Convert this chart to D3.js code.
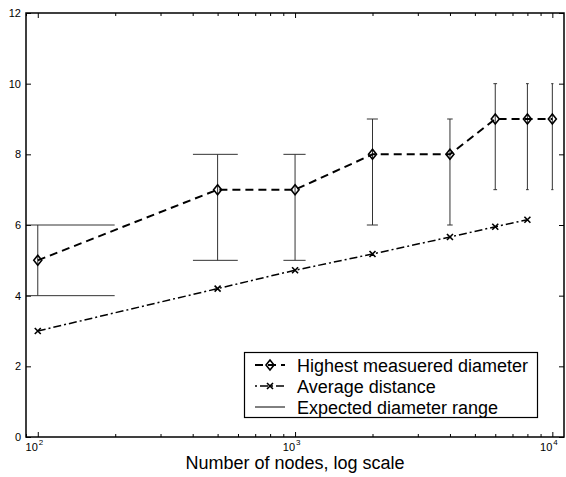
<!DOCTYPE html>
<html>
<head>
<meta charset="utf-8">
<script src="https://cdn.jsdelivr.net/npm/d3@7"></script>
<style>
  html, body { margin: 0; padding: 0; background: #fff; }
  svg { display: block; font-family: "Liberation Sans", Arial, Helvetica, sans-serif; }
</style>
</head>
<body>
<svg id="chart" width="566" height="477"></svg>
<script>
// Network size (number of nodes) at each measurement
const nodes = [100, 500, 1000, 2000, 4000, 6000, 8000, 10000];
// Highest measured diameter per network size
const highestDiameter = [5, 7, 7, 8, 8, 9, 9, 9];
// Expected diameter range (low / high) per network size
const expectedLow = [4, 5, 5, 6, 6, 7, 7, 7];
const expectedHigh = [6, 8, 8, 9, 9, 10, 10, 10];
// Average distance between nodes
const avgNodes = [100, 500, 1000, 2000, 4000, 6000, 8000];
const avgDistance = [3.0, 4.2, 4.72, 5.18, 5.66, 5.95, 6.15];

const xDomain = [90, 11100];
const yDomain = [0, 12];
const yTicks = [0, 2, 4, 6, 8, 10, 12];
const majorX = [100, 1000, 10000];
const xExponents = ["2", "3", "4"];
const legendLabels = ["Highest measuered diameter", "Average distance", "Expected diameter range"];
const xTitle = "Number of nodes, log scale";

const svg = d3.select("#chart");
const plot = { left: 26, top: 13, right: 564, bottom: 437 };

const x = d3.scaleLog().domain(xDomain).range([plot.left, plot.right]);
const y = d3.scaleLinear().domain(yDomain).range([plot.bottom, plot.top]);

svg.append("defs").append("clipPath").attr("id", "plotClip")
  .append("rect")
  .attr("x", plot.left).attr("y", plot.top)
  .attr("width", plot.right - plot.left).attr("height", plot.bottom - plot.top);

// minor log ticks (2..9 x 10^k)
const minorX = [];
for (let k = 1; k <= 4; k++) {
  for (let m = 2; m <= 9; m++) {
    const v = m * Math.pow(10, k);
    if (v >= xDomain[0] && v <= xDomain[1]) minorX.push(v);
  }
}

// Axes (ticks drawn inward, on all four sides)
const axisG = svg.append("g");
const bottomAxis = d3.axisBottom(x).tickValues(majorX).tickSize(-5).tickFormat("");
const bottomMinor = d3.axisBottom(x).tickValues(minorX).tickSize(-3).tickFormat("");
const topAxis = d3.axisTop(x).tickValues(majorX).tickSize(-5).tickFormat("");
const topMinor = d3.axisTop(x).tickValues(minorX).tickSize(-3).tickFormat("");
const leftAxis = d3.axisLeft(y).tickValues(yTicks).tickSize(-5).tickPadding(5);
const rightAxis = d3.axisRight(y).tickValues(yTicks).tickSize(-5).tickFormat("");

function styleAxis(g) {
  g.select(".domain").remove();
  g.selectAll(".tick line").attr("stroke", "#000").attr("stroke-width", 1);
}
axisG.append("g").attr("transform", `translate(0,${plot.bottom})`).call(bottomAxis).call(styleAxis);
axisG.append("g").attr("transform", `translate(0,${plot.bottom})`).call(bottomMinor).call(styleAxis);
axisG.append("g").attr("transform", `translate(0,${plot.top})`).call(topAxis).call(styleAxis);
axisG.append("g").attr("transform", `translate(0,${plot.top})`).call(topMinor).call(styleAxis);
const yl = axisG.append("g").attr("transform", `translate(${plot.left},0)`).call(leftAxis).call(styleAxis);
yl.selectAll(".tick text").attr("font-size", 11).attr("fill", "#000")
  .attr("font-family", "Liberation Sans, Arial, sans-serif");
axisG.append("g").attr("transform", `translate(${plot.right},0)`).call(rightAxis).call(styleAxis);

// x tick labels as 10^k
const xl = svg.append("g");
majorX.forEach((v, i) => {
  xl.append("text")
    .attr("x", x(v)).attr("y", 450.5)
    .attr("font-size", 11).attr("fill", "#000")
    .attr("text-anchor", "end").text("10");
  xl.append("text")
    .attr("x", x(v) + 1).attr("y", 444.5)
    .attr("font-size", 8).attr("fill", "#000")
    .text(xExponents[i]);
});

// x axis title
svg.append("text")
  .attr("x", (plot.left + plot.right) / 2).attr("y", 469)
  .attr("text-anchor", "middle").attr("font-size", 18).attr("fill", "#000")
  .text(xTitle);

const g = svg.append("g").attr("clip-path", "url(#plotClip)");

// Expected diameter range: error bars with caps
const capHalf = (d3.max(nodes) - d3.min(nodes)) / 100;
const bars = g.append("g").attr("stroke", "#333").attr("stroke-width", 1).attr("fill", "none");
nodes.forEach((n, i) => {
  bars.append("line").attr("x1", x(n)).attr("x2", x(n))
    .attr("y1", y(expectedLow[i])).attr("y2", y(expectedHigh[i]));
  const xa = n - capHalf > 0 ? x(n - capHalf) : plot.left - 10;
  const xb = x(n + capHalf);
  bars.append("line").attr("x1", xa).attr("x2", xb)
    .attr("y1", y(expectedLow[i])).attr("y2", y(expectedLow[i]));
  bars.append("line").attr("x1", xa).attr("x2", xb)
    .attr("y1", y(expectedHigh[i])).attr("y2", y(expectedHigh[i]));
});

// Highest measured diameter: dashed line with diamonds
const lineHigh = d3.line().x((d, i) => x(nodes[i])).y(d => y(d));
g.append("path").datum(highestDiameter)
  .attr("d", lineHigh).attr("fill", "none")
  .attr("stroke", "#000").attr("stroke-width", 2)
  .attr("stroke-dasharray", "8,5");

function diamond(sel, cx, cy) {
  sel.append("path")
    .attr("d", `M${cx},${cy - 5}L${cx + 4},${cy}L${cx},${cy + 5}L${cx - 4},${cy}Z`)
    .attr("fill", "none").attr("stroke", "#000").attr("stroke-width", 1.6);
}
highestDiameter.forEach((d, i) => diamond(g, x(nodes[i]), y(d)));

// Average distance: dash-dot line with x markers
const lineAvg = d3.line().x((d, i) => x(avgNodes[i])).y(d => y(d));
g.append("path").datum(avgDistance)
  .attr("d", lineAvg).attr("fill", "none")
  .attr("stroke", "#000").attr("stroke-width", 1.5)
  .attr("stroke-dasharray", "8,3,2,3");

function cross(sel, cx, cy) {
  const s = 3;
  sel.append("path")
    .attr("d", `M${cx - s},${cy - s}L${cx + s},${cy + s}M${cx - s},${cy + s}L${cx + s},${cy - s}`)
    .attr("stroke", "#000").attr("stroke-width", 1.6).attr("fill", "none");
}
avgDistance.forEach((d, i) => cross(g, x(avgNodes[i]), y(d)));

// Plot frame
svg.append("rect")
  .attr("x", plot.left).attr("y", plot.top)
  .attr("width", plot.right - plot.left).attr("height", plot.bottom - plot.top)
  .attr("fill", "none").attr("stroke", "#000").attr("stroke-width", 1.5);

// Legend
const lg = svg.append("g");
lg.append("rect")
  .attr("x", 244.5).attr("y", 352.5).attr("width", 293).attr("height", 65)
  .attr("fill", "#fff").attr("stroke", "#000").attr("stroke-width", 1.2);
const rowY = [365, 386, 407];
const sx0 = 255, sx1 = 285, smid = 270;
// row 1
lg.append("line").attr("x1", sx0).attr("x2", sx1).attr("y1", rowY[0]).attr("y2", rowY[0])
  .attr("stroke", "#000").attr("stroke-width", 2).attr("stroke-dasharray", "8,5");
diamond(lg, smid, rowY[0]);
// row 2
lg.append("line").attr("x1", sx0).attr("x2", sx1).attr("y1", rowY[1]).attr("y2", rowY[1])
  .attr("stroke", "#000").attr("stroke-width", 1.5).attr("stroke-dasharray", "2,3,8,3");
cross(lg, smid, rowY[1]);
// row 3
lg.append("line").attr("x1", sx0).attr("x2", sx1).attr("y1", rowY[2]).attr("y2", rowY[2])
  .attr("stroke", "#000").attr("stroke-width", 1);
legendLabels.forEach((t, i) => {
  lg.append("text").attr("x", 297).attr("y", rowY[i] + 6.5)
    .attr("font-size", 18).attr("fill", "#000").text(t);
});
</script>
</body>
</html>
